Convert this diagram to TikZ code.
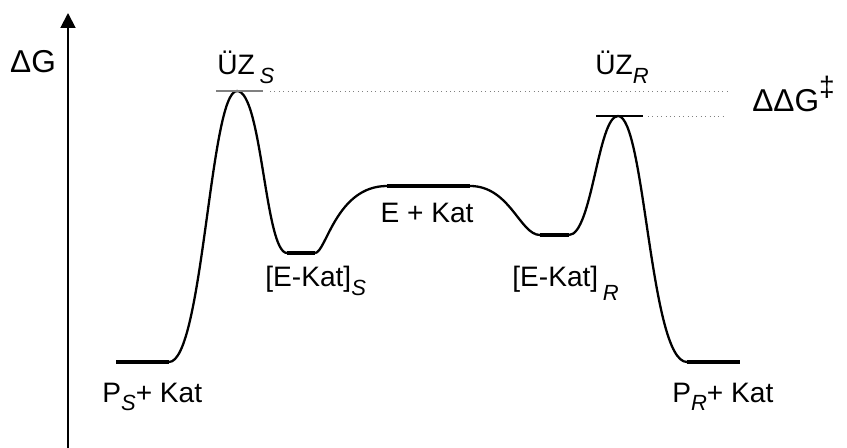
\documentclass[tikz,border=0pt]{standalone}
\usepackage{fontspec}
\setmainfont{Liberation Sans}
\usetikzlibrary{arrows.meta, positioning, calc}

\newcommand{\lowidx}[1]{\raisebox{-0.32em}{\fontsize{12.5}{13}\selectfont\itshape #1}}

\begin{document}
\begin{tikzpicture}[
    x=0.02cm, y=-0.02cm,
    curve/.style={line width=1.3pt, black},
    level/.style={line width=2.6pt, black},
    tsline/.style={line width=0.6pt},
    guide/.style={dotted, line width=0.5pt, gray},
    lab/.style={font=\fontsize{16}{19}\selectfont, inner sep=0pt, anchor=base west},
    biglab/.style={lab, font=\fontsize{18}{21}\selectfont}
]
    \useasboundingbox (0,0) rectangle (847,448);

    % --- Axis ---
    \coordinate (ax0) at (68,448);
    \coordinate (ax1) at (68,13);
    \draw[line width=1.1pt, -{Triangle[length=8.5pt, width=8.5pt]}] (ax0) -- (ax1);
    \node[biglab, anchor=base] (dG) at (33,73) {ΔG};

    % --- Energy levels ---
    \coordinate (ps1) at (116,362);  \coordinate (ps2) at (169,362);
    \coordinate (ts1) at (237,91);
    \coordinate (es1) at (287,253);  \coordinate (es2) at (315,253);
    \coordinate (ek1) at (387,186);  \coordinate (ek2) at (470,186);
    \coordinate (er1) at (540,235);  \coordinate (er2) at (569,235);
    \coordinate (tr1) at (618,116);
    \coordinate (pr1) at (687,362);  \coordinate (pr2) at (740,362);

    \draw[level] (ps1) -- (ps2);
    \draw[level] (es1) -- (es2);
    \draw[level] (ek1) -- (ek2);
    \draw[level] (er1) -- (er2);
    \draw[level] (pr1) -- (pr2);

    % reaction profile
    \draw[curve] (ps2) .. controls (203,362) and (210,91) .. (ts1)
        .. controls (262,91) and (265,253) .. (es1);
    \draw[curve] (es2) .. controls (326,253) and (336,186) .. (ek1);
    \draw[curve] (ek2) .. controls (510,186) and (520,235) .. (er1);
    \draw[curve] (er2) .. controls (592,235) and (598,116) .. (tr1)
        .. controls (645,116) and (650,362) .. (pr1);

    % --- Transition state marks ---
    \draw[tsline, gray] (216,91) -- (263,91);
    \draw[tsline] (596,116) -- (643,116);
    \draw[guide] (270,91) -- (727,91);
    \draw[guide] (648,116) -- (727,116);

    % --- Labels ---
    \node[lab] (tsS) at (217,75) {ÜZ\,\lowidx{S}};
    \node[lab] (tsR) at (595,75) {ÜZ\lowidx{R}};
    \node[biglab] (ddG) at (752,112) {ΔΔG\raisebox{0.5em}{\fontsize{16}{16}\selectfont ‡}};
    \node[lab] (esS) at (265,287) {[E-Kat]\lowidx{S}};
    \node[lab, anchor=base] (ek) at (427,223) {E + Kat};
    \node[lab] (esR) at (512,287) {[E-Kat]\,\raisebox{-0.15em}{\lowidx{R}}};
    \node[lab] (pS) at (102,402) {P\lowidx{S}+ Kat};
    \node[lab] (pR) at (672,402) {P\lowidx{R}+ Kat};
\end{tikzpicture}
\end{document}
